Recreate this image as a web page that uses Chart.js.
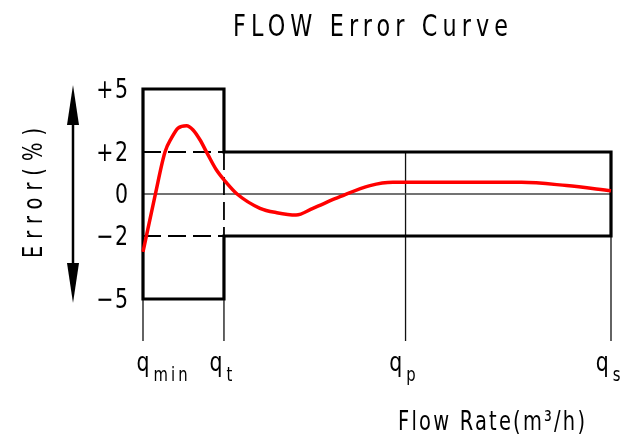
<!DOCTYPE html>
<html>
<head>
<meta charset="utf-8">
<script src="https://cdn.jsdelivr.net/npm/chart.js@4.4.0/dist/chart.umd.min.js"></script>
<style>
    html, body { margin: 0; padding: 0; background: #fff; }
    #chart { display: block; }
</style>
</head>
<body>
<canvas id="chart" width="631" height="435"></canvas>
<script>
// Error curve (flow rate in relative units: qmin = 0 ... qs = 10)
const flowRate = [0, 0.26, 0.47, 0.61, 0.75, 0.93, 1.07, 1.22, 1.39, 1.57, 1.79, 2.01, 2.5, 2.86, 3.27, 3.63, 4.21, 4.85, 5.34, 8.09, 9.05, 10];
const errorPct = [-2.76, -0.05, 2.0, 2.67, 3.14, 3.25, 3.05, 2.57, 1.86, 1.14, 0.52, 0.0, -0.68, -0.89, -1.0, -0.68, -0.13, 0.4, 0.56, 0.56, 0.4, 0.16];

// Characteristic flow points qmin, qt, qp, qs
const flowMarks = [0, 1.73, 5.61, 10];
const flowSubs = ["min", "t", "p", "s"];

// Maximum permissible error (%) below qt and above qt
const lowerZoneLimit = 5;
const upperZoneLimit = 2;

// Y axis ticks
const errorTicks = [5, 2, 0, -2, -5];
const errorTickLabels = ["+5", "+2", "0", "\u22122", "\u22125"];

// Axis range
const errorMin = -7;
const errorMax = 5;

// Build line datasets from the values above
const qMin = flowMarks[0], qT = flowMarks[1], qP = flowMarks[2], qS = flowMarks[3];

const curvePoints = flowRate.map((x, i) => ({ x: x, y: errorPct[i] }));

const envelopePoints = [
    { x: qMin, y: lowerZoneLimit }, { x: qT, y: lowerZoneLimit },
    { x: qT, y: upperZoneLimit }, { x: qS, y: upperZoneLimit },
    { x: qS, y: -upperZoneLimit }, { x: qT, y: -upperZoneLimit },
    { x: qT, y: -lowerZoneLimit }, { x: qMin, y: -lowerZoneLimit },
    { x: qMin, y: lowerZoneLimit }
];

const dashedPoints = [
    { x: qMin, y: upperZoneLimit }, { x: qT, y: upperZoneLimit }, { x: qT, y: null },
    { x: qMin, y: -upperZoneLimit }, { x: qT, y: -upperZoneLimit }, { x: qT, y: null },
    { x: qT, y: upperZoneLimit }, { x: qT, y: -upperZoneLimit }
];

const zeroPoints = [{ x: qMin, y: 0 }, { x: qS, y: 0 }];

const guidePoints = [
    { x: qMin, y: -lowerZoneLimit }, { x: qMin, y: errorMin }, { x: qMin, y: null },
    { x: qT, y: -lowerZoneLimit }, { x: qT, y: errorMin }, { x: qT, y: null },
    { x: qP, y: upperZoneLimit }, { x: qP, y: errorMin }, { x: qP, y: null },
    { x: qS, y: -upperZoneLimit }, { x: qS, y: errorMin }
];

const FONT = '"DejaVu Sans", "Liberation Sans", sans-serif';

// Draw text squeezed horizontally, with letter spacing (fixed or to fit a width)
function drawText(ctx, text, x, y, opts) {
    const size = opts.size, sx = opts.sx || 1;
    ctx.save();
    ctx.font = size + "px " + FONT;
    ctx.letterSpacing = "0px";
    const natural = ctx.measureText(text).width;
    const n = [...text].length;
    let spacing = opts.spacing || 0;
    if (opts.width && n > 1) spacing = Math.max(0, (opts.width / sx - natural) / (n - 1));
    ctx.letterSpacing = spacing + "px";
    const total = (natural + spacing * (n - 1)) * sx;
    let left = x;
    if (opts.align === "center") left = x - total / 2;
    if (opts.align === "right") left = x - total;
    if (opts.draw !== false) {
        ctx.translate(left, y);
        ctx.scale(sx, 1);
        ctx.textAlign = "left";
        ctx.textBaseline = opts.baseline || "alphabetic";
        ctx.fillStyle = "#000";
        ctx.fillText(text, 0, 0);
    }
    ctx.restore();
    return total;
}

// Texts, arrow and labels
const decorPlugin = {
    id: "decor",
    afterDraw(chart) {
        const ctx = chart.ctx;
        const xs = chart.scales.x;
        const ys = chart.scales.y;

        // Title
        drawText(ctx, "FLOW Error Curve", 233, 36, { size: 31, sx: 0.72, width: 275 });

        // Y tick labels
        errorTicks.forEach((v, i) => {
            drawText(ctx, errorTickLabels[i], 128, ys.getPixelForValue(v) + 2,
                { size: 27, sx: 0.76, spacing: 2, align: "right", baseline: "middle" });
        });

        // Y title
        ctx.save();
        ctx.translate(42, 193);
        ctx.rotate(-Math.PI / 2);
        drawText(ctx, "Error(%)", 0, 0, { size: 27, sx: 0.72, width: 130, align: "center" });
        ctx.restore();

        // Double arrow
        const ax = 73;
        const top = ys.getPixelForValue(errorMax) - 4;
        const bot = ys.getPixelForValue(-lowerZoneLimit) + 4;
        ctx.save();
        ctx.strokeStyle = "#000";
        ctx.fillStyle = "#000";
        ctx.lineWidth = 2.5;
        ctx.beginPath();
        ctx.moveTo(ax, top + 20);
        ctx.lineTo(ax, bot - 20);
        ctx.stroke();
        ctx.beginPath();
        ctx.moveTo(ax, top);
        ctx.lineTo(ax - 6, top + 40);
        ctx.lineTo(ax + 6, top + 40);
        ctx.closePath();
        ctx.fill();
        ctx.beginPath();
        ctx.moveTo(ax, bot);
        ctx.lineTo(ax - 6, bot - 40);
        ctx.lineTo(ax + 6, bot - 40);
        ctx.closePath();
        ctx.fill();
        ctx.restore();

        // Flow point labels
        flowMarks.forEach((v, i) => {
            const px = xs.getPixelForValue(v);
            const qW = drawText(ctx, "q", 0, 0, { size: 27, sx: 0.76, draw: false });
            const sW = drawText(ctx, flowSubs[i], 0, 0, { size: 19, sx: 0.78, spacing: 4, draw: false });
            let left;
            if (i === 0) left = px - qW / 2;
            else left = px - (qW + 4 + sW) / 2 - 3;
            drawText(ctx, "q", left, 371, { size: 27, sx: 0.76 });
            drawText(ctx, flowSubs[i], left + qW + 4, 381, { size: 19, sx: 0.78, spacing: 4 });
        });

        // X title
        drawText(ctx, "Flow Rate(m\u00b3/h)", 398, 430, { size: 27, sx: 0.72, width: 187 });
    }
};

let canvas = document.getElementById("chart").getContext("2d");

let chart = new Chart(canvas, {
    type: "line",
    data: {
        datasets: [
            {
                label: "Error",
                data: curvePoints,
                borderColor: "#ff0000",
                borderWidth: 3.5,
                cubicInterpolationMode: "monotone",
                pointRadius: 0,
                fill: false,
                clip: false
            },
            {
                label: "Envelope",
                data: envelopePoints,
                borderColor: "#000",
                borderWidth: 3.2,
                borderJoinStyle: "miter",
                borderCapStyle: "square",
                pointRadius: 0,
                fill: false,
                clip: false
            },
            {
                label: "Limits",
                data: dashedPoints,
                borderColor: "#000",
                borderWidth: 1.8,
                borderDash: [18, 7],
                pointRadius: 0,
                fill: false,
                clip: false
            },
            {
                label: "Zero",
                data: zeroPoints,
                borderColor: "#444",
                borderWidth: 1.5,
                pointRadius: 0,
                fill: false,
                clip: false
            },
            {
                label: "Guides",
                data: guidePoints,
                borderColor: "#111",
                borderWidth: 1.3,
                pointRadius: 0,
                fill: false,
                clip: false
            }
        ]
    },
    options: {
        responsive: false,
        animation: false,
        layout: {
            padding: { left: 143, right: 20, top: 89, bottom: 94 }
        },
        scales: {
            x: { type: "linear", min: qMin, max: qS, display: false },
            y: { type: "linear", min: errorMin, max: errorMax, display: false }
        },
        plugins: {
            legend: { display: false },
            tooltip: { enabled: false }
        }
    },
    plugins: [decorPlugin]
});
</script>
</body>
</html>
